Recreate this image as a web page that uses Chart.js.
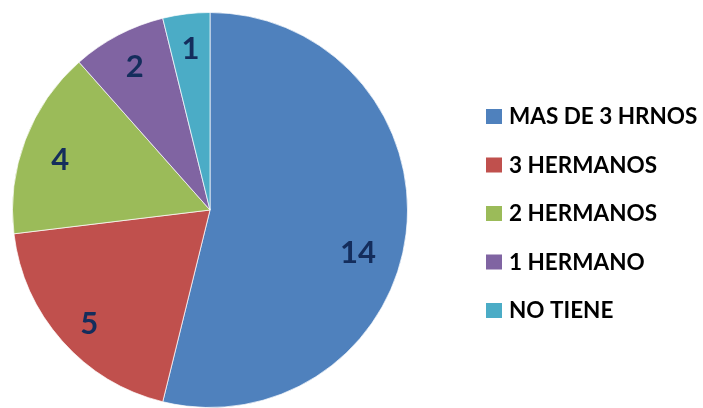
<!DOCTYPE html>
<html lang="es">
<head>
    <meta charset="UTF-8">
    <title>Hermanos</title>
    <style>
        body {
            margin: 0;
            padding: 0;
            background-color: #fff;
        }

        .chart-container {
            width: 703px;
            height: 408px;
        }
    </style>
    <script src="https://cdn.jsdelivr.net/npm/chart.js"></script>
</head>
<body>
    <div class="chart-container">
        <canvas id="pieChart"></canvas>
    </div>
    <script>
        const labels = ['MAS DE 3 HRNOS', '3 HERMANOS', '2 HERMANOS', '1 HERMANO', 'NO TIENE'];
        const values = [14, 5, 4, 2, 1];
        const colors = ['#4F81BD', '#C0504D', '#9BBB59', '#8064A2', '#4BACC6'];

        const FONT = 'Lato, "Open Sans", sans-serif';

        // valores dentro de cada porción
        const sliceLabels = {
            id: 'sliceLabels',
            afterDatasetsDraw(chart, args, opts) {
                const ctx = chart.ctx;
                const meta = chart.getDatasetMeta(0);
                ctx.save();
                ctx.font = 'bold 31px ' + FONT;
                ctx.fillStyle = '#142D5C';
                ctx.textAlign = 'center';
                ctx.textBaseline = 'middle';
                meta.data.forEach((arc, i) => {
                    // excel "mejor ajuste" no pone la etiqueta justo en el medio
                    const mid = (arc.startAngle + arc.endAngle) / 2 + (opts.turn[i] || 0);
                    const r = arc.outerRadius * (opts.dist[i] || 0.8);
                    ctx.fillText(String(values[i]), arc.x + Math.cos(mid) * r, arc.y + Math.sin(mid) * r);
                });
                ctx.restore();
            }
        };

        // leyenda a la derecha
        const sideLegend = {
            id: 'sideLegend',
            afterDraw(chart) {
                const ctx = chart.ctx;
                const x = 486;
                const y0 = 116;
                const step = 48.5;
                ctx.save();
                ctx.font = 'bold 22.5px ' + FONT;
                ctx.textBaseline = 'middle';
                labels.forEach((lab, i) => {
                    const y = y0 + i * step;
                    ctx.fillStyle = colors[i];
                    ctx.fillRect(x, y - 7, 16, 15);
                    ctx.fillStyle = '#000';
                    ctx.fillText(lab, x + 23, y + 1);
                });
                ctx.restore();
            }
        };

        const ctx = document.getElementById('pieChart').getContext('2d');
        new Chart(ctx, {
            type: 'pie',
            data: {
                labels: labels,
                datasets: [{
                    data: values,
                    backgroundColor: colors,
                    borderColor: 'rgba(255,255,255,0.7)',
                    borderWidth: 1
                }]
            },
            options: {
                responsive: true,
                maintainAspectRatio: false,
                animation: false,
                layout: {
                    padding: { left: 11, top: 12, right: 294, bottom: 0 }
                },
                plugins: {
                    legend: { display: false },
                    tooltip: { enabled: false },
                    sliceLabels: {
                        turn: [0.16, -0.03, -0.04, 0, 0],
                        dist: [0.78, 0.84, 0.8, 0.82, 0.82]
                    }
                }
            },
            plugins: [sliceLabels, sideLegend]
        });
    </script>
</body>
</html>
